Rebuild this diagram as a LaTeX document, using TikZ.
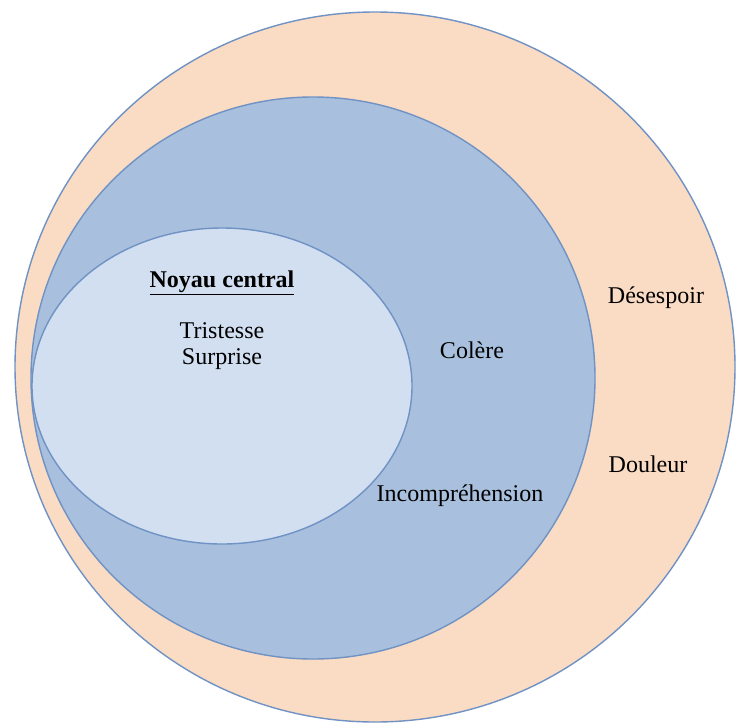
\documentclass[tikz,border=0pt]{standalone}
\usepackage{fontspec}
\setmainfont{Liberation Serif}
\usepackage{xcolor}
\definecolor{RingEdge}{RGB}{112,146,196}
\definecolor{RingPeach}{RGB}{249,220,195}
\definecolor{RingBlue}{RGB}{168,192,221}
\definecolor{CoreBlue}{RGB}{209,223,241}

\begin{document}
\begin{tikzpicture}[
x=0.03cm,y=-0.03cm,
ring/.style={draw=RingEdge,line width=1.2pt},
word/.style={font=\fontsize{20.5}{24}\selectfont,text=black,inner sep=1pt,align=center}
]
\useasboundingbox (0,0) rectangle (736,724);
\draw[ring,fill=RingPeach] (375,367) ellipse [x radius=360,y radius=355];
\draw[ring,fill=RingBlue] (313,378) ellipse [x radius=282,y radius=281];
\draw[ring,fill=CoreBlue] (222,386) ellipse [x radius=190,y radius=158];
\node[word] (title) at (222,283) {\textbf{\underline{Noyau central}}};
\node[word] (core) at (222,346) {Tristesse\\[-2pt]Surprise};
\node[word] (colere) at (472,350) {Colère};
\node[word] (incomp) at (460,496) {Incompréhension};
\node[word] (desespoir) at (656,298) {Désespoir};
\node[word] (douleur) at (648,464) {Douleur};
\end{tikzpicture}
\end{document}
